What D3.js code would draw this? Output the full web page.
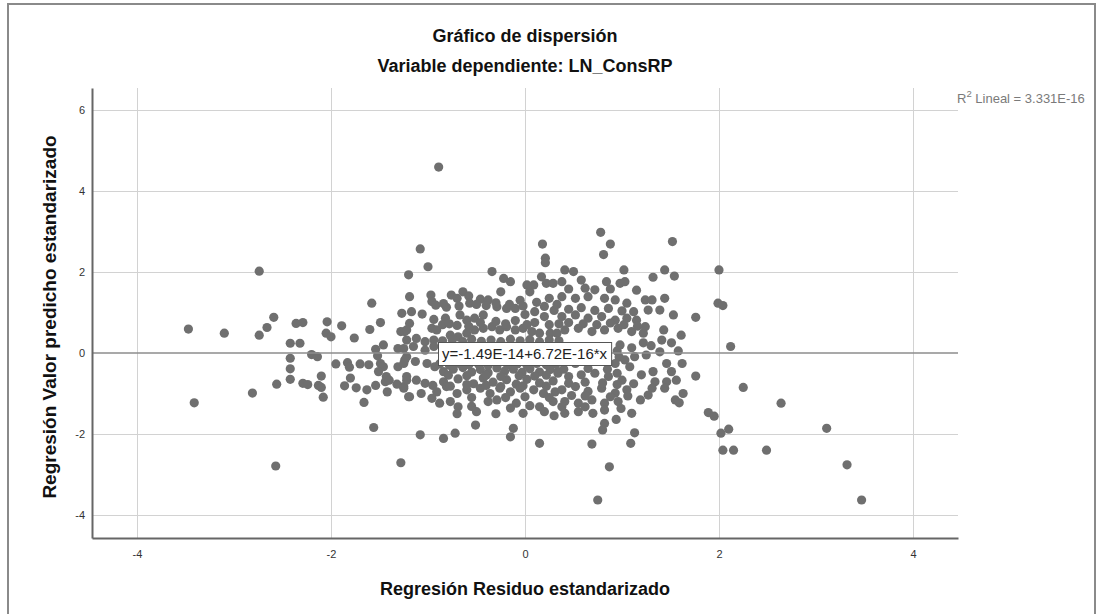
<!DOCTYPE html>
<html>
<head>
<meta charset="utf-8">
<script src="https://cdn.jsdelivr.net/npm/d3@7"></script>
<style>
  body { margin: 0; background: #fff; }
  svg { display: block; font-family: "Liberation Sans", Arial, sans-serif; }
</style>
</head>
<body>
<svg id="chart" width="1099" height="614"></svg>
<script>
// texts
const titulo = "Gráfico de dispersión";
const subtitulo = "Variable dependiente: LN_ConsRP";
const tituloX = "Regresión Residuo estandarizado";
const tituloY = "Regresión Valor predicho estandarizado";
const etiquetaR2 = "Lineal = 3.331E-16";
const etiquetaRecta = "y=-1.49E-14+6.72E-16*x";

// ticks
const ticksX = [-4, -2, 0, 2, 4];
const ticksY = [-4, -2, 0, 2, 4, 6];

// fit line: intercept and slope
const intercepto = -1.49e-14;
const pendiente = 6.72e-16;

// [residuo estandarizado, valor predicho estandarizado]
const puntos = [
  [-3.47,0.59],[-3.10,0.49],[-3.41,-1.23],[-2.57,-2.79],[-2.74,2.02],[-2.59,0.88],[-2.66,0.63],[-2.74,0.44],
  [-2.36,0.73],[-2.29,0.75],[-2.04,0.77],[-1.89,0.67],[-2.05,0.49],[-2.00,0.40],[-1.76,0.37],[-1.60,0.58],
  [-1.49,0.75],[-1.58,1.23],[-2.42,0.24],[-2.32,0.24],[-2.20,-0.04],[-2.14,-0.09],[-2.42,-0.13],[-2.42,-0.39],
  [-2.42,-0.65],[-2.56,-0.77],[-2.81,-0.99],[-2.29,-0.75],[-2.24,-0.78],[-2.10,-0.57],[-2.13,-0.80],[-2.10,-0.85],
  [-2.08,-1.09],[-1.95,-0.27],[-1.83,-0.24],[-1.81,-0.35],[-1.70,-0.27],[-1.61,-0.29],[-1.80,-0.62],[-1.86,-0.81],
  [-1.74,-0.86],[-1.63,-0.91],[-1.66,-1.22],[-1.56,-1.84],[-1.28,-2.71],[-1.54,-0.80],[-1.42,-0.96],[-1.46,0.20],
  [-1.54,0.09],[-1.52,-0.07],[-1.49,-0.26],[-1.46,-0.34],[-1.51,-0.46],[-1.43,-0.58],[-1.44,-0.71],[-1.40,-0.67],
  [-1.31,0.11],[-1.27,0.98],[-1.28,0.53],[-1.24,0.53],[-1.31,-0.34],[-1.25,-0.26],[-1.32,-0.77],[-1.25,-0.83],
  [-1.22,-0.67],[-1.20,1.93],[-1.19,1.39],[-1.22,-0.09],[-1.20,-1.08],
  [-1.08,2.57],[-1.00,2.13],[-0.34,2.01],[0.18,2.69],[0.21,2.34],[0.21,2.23],[-0.22,1.84],[-0.15,1.76],
  [-0.25,1.51],[0.02,1.68],[0.09,1.68],[0.05,1.51],[0.17,1.88],[0.22,1.72],[0.29,1.72],[-0.97,1.43],
  [-0.96,1.27],[-0.76,1.43],[-0.70,1.35],[-0.64,1.51],[-0.58,1.41],[-0.57,1.23],[-0.46,1.33],[-0.38,1.31],
  [-0.29,1.14],[-0.19,1.10],[-0.10,1.10],[-0.81,1.13],[-1.17,1.02],[-1.06,0.96],[-0.94,0.83],[-0.82,0.86],
  [-0.67,0.94],[-0.60,0.81],[-0.52,0.86],[-0.43,0.94],[-1.19,0.73],[-1.22,0.57],[-0.96,0.61],[-0.91,0.57],
  [-0.77,0.44],[-0.69,0.40],[-0.60,0.49],[-0.52,0.57],[-0.43,0.61],[-0.34,0.65],[-0.26,0.57],[-0.19,0.65],
  [-0.10,0.57],[-0.02,0.61],[0.07,0.53],[0.15,0.49],[0.26,0.49],[0.33,0.49],
  [-1.22,0.32],[-1.12,0.36],[-1.03,0.28],[-0.94,0.32],[-1.25,0.11],[-1.15,0.16],[-1.03,0.07],[-0.94,0.16],
  [-1.24,-0.17],[-1.13,-0.21],[-1.01,-0.26],[-0.93,-0.34],
  [-0.84,-0.46],[-0.74,-0.40],[-0.64,-0.36],[-0.55,-0.47],[-0.46,-0.41],[-0.38,-0.49],[-0.29,-0.37],[-0.21,-0.45],
  [-0.12,-0.40],[-0.03,-0.48],[0.05,-0.39],[0.15,-0.47],[0.26,-0.41],[0.34,-0.46],
  [-1.22,-0.58],[-1.12,-0.67],[-1.03,-0.75],[-0.84,-0.71],[-0.69,-0.64],[-0.53,-0.76],[-0.43,-0.62],[-0.33,-0.72],
  [-0.19,-0.66],[-0.09,-0.77],[0.02,-0.65],[0.15,-0.74],[0.29,-0.69],
  [-1.25,-0.87],[-1.19,-1.08],[-1.07,-1.00],[-0.91,-0.96],[-0.81,-0.83],[-0.70,-1.00],[-0.60,-0.91],[-0.46,-0.87],
  [-0.36,-1.00],[-0.26,-0.87],[-0.15,-0.96],[-0.05,-0.87],[0.09,-0.91],[0.19,-1.00],[0.31,-0.96],
  [-0.88,-1.24],[-0.77,-1.20],[-0.69,-1.33],[-0.38,-1.20],[-0.29,-1.16],[-0.09,-1.24],[0.15,-1.33],[0.29,-1.20],
  [-0.02,-1.49],[-0.51,-1.78],[-0.72,-1.98],[-0.84,-2.11],[-1.08,-2.02],[-0.12,-1.86],[-0.15,-2.07],[0.15,-2.23],
  [0.69,-2.25],[1.09,-2.23],[0.87,-2.81],[0.75,-3.63],[3.47,-3.63],[3.32,-2.76],[2.04,-2.40],[2.15,-2.40],[2.49,-2.40],
  [0.78,2.98],[0.88,2.69],[0.81,2.43],[1.52,2.75],[1.02,2.05],[0.41,2.05],[0.50,2.01],[1.32,1.87],
  [1.44,2.05],[1.54,1.90],[2.00,2.05],[1.99,1.23],[2.04,1.17],
  [0.38,1.76],[0.58,1.80],[0.72,1.56],[0.84,1.76],[0.98,1.72],[1.03,1.76],
  [1.24,1.31],[1.31,1.31],[1.44,1.35],[1.27,1.06],[1.39,1.06],[1.53,0.94],[1.76,0.88],
  [0.38,1.39],[0.52,1.35],[0.65,1.39],[0.82,1.35],[0.93,1.31],[1.05,1.23],
  [0.38,0.90],[0.52,0.94],[0.65,0.86],[0.79,0.90],[0.93,0.81],[1.05,0.86],[1.15,0.81],[1.24,0.65],
  [0.41,0.57],[0.55,0.61],[0.69,0.53],[0.82,0.57],[0.96,0.61],[1.10,0.53],[1.22,0.49],
  [1.43,0.57],[1.61,0.44],[1.41,0.32],[1.51,0.25],[1.10,0.13],[1.13,-0.09],[1.39,0.03],[1.58,0.05],
  [1.62,-0.26],[1.46,-0.26],[1.51,-0.46],[1.03,-0.17],[1.08,-0.34],[0.95,-0.50],[1.20,-0.54],[1.32,-0.46],
  [1.34,-0.71],[1.46,-0.71],[1.44,-0.87],[1.56,-0.67],[1.76,-0.57],[1.19,-1.16],[1.27,-1.04],[1.31,-0.87],
  [1.55,-1.16],[1.63,-1.00],[1.59,-1.23],[1.89,-1.47],[1.95,-1.56],[2.02,-1.98],[2.10,-1.88],
  [1.10,-1.49],[0.94,-1.64],[0.82,-1.74],[0.80,-1.90],[1.13,-1.97],
  [0.34,-0.50],[0.45,-0.58],[0.58,-0.54],[0.72,-0.50],[0.86,-0.58],[1.00,-0.67],
  [0.38,-0.91],[0.52,-0.83],[0.65,-0.95],[0.79,-0.87],[0.93,-0.99],[1.05,-0.91],
  [0.41,-1.20],[0.55,-1.24],[0.69,-1.16],[0.82,-1.24],[0.96,-1.20],
  [0.41,-1.49],[0.55,-1.45],[0.70,-1.49],[0.82,-1.41],[0.99,-1.37],
  [0.38,-0.17],[0.52,-0.26],[0.65,-0.21],[0.79,-0.17],[0.93,-0.26],[0.98,0.20],
  [2.12,0.16],[2.25,-0.85],[2.64,-1.24],[3.11,-1.86],[-0.89,4.59],
  [-0.85,0.30],[-0.75,0.33],[-0.64,0.28],[-0.55,0.34],[-0.45,0.29],[-0.35,0.32],[-0.25,0.28],[-0.15,0.34],
  [-0.05,0.30],[0.05,0.33],[0.15,0.28],[0.25,0.32],[0.35,0.30],
  [-0.88,-0.27],[-0.78,-0.30],[-0.68,-0.26],[-0.58,-0.29],[-0.48,-0.27],[-0.38,-0.30],[-0.28,-0.26],[-0.18,-0.29],
  [-0.08,-0.27],[0.02,-0.30],[0.12,-0.26],[0.22,-0.29],[0.32,-0.27],
  [0.00,0.95],[0.10,1.02],[0.20,0.90],[0.30,1.05],[-0.05,1.30],[0.12,1.25],[0.25,1.35],[0.33,1.20],
  [-0.85,0.70],[-0.70,0.68],[-0.30,0.78],[-0.10,0.80],[0.10,0.75],[0.25,0.70],[0.35,0.72],
  [-0.60,0.05],[-0.20,-0.05],[0.20,0.00],[0.60,0.05],[0.85,-0.05],[0.95,0.05],[0.97,-0.10],
  [-0.50,-1.45],[-0.30,-1.50],[0.20,-1.45],[0.30,-1.55],[-0.70,-1.50],
  [0.45,1.58],[0.62,1.60],[0.88,1.58],[1.15,1.55],
  [-0.92,1.18],[-0.84,1.22],[-0.68,1.16],[-0.50,1.20],[-0.40,1.17],[-0.30,1.24],[-0.16,1.20],[-0.02,1.16],[0.20,1.15],
  [-0.78,0.72],[-0.58,0.66],[-0.46,0.75],[-0.20,0.72],[0.02,0.70],[0.45,0.75],[0.60,0.72],[0.74,0.70],
  [0.88,0.74],[1.02,0.70],[1.16,0.66],
  [0.45,1.08],[0.58,1.12],[0.72,1.05],[0.86,1.10],[1.00,1.04],[1.12,1.02],
  [-0.79,-0.55],[-0.60,-0.56],[-0.40,-0.55],[-0.25,-0.58],[-0.06,-0.56],[0.10,-0.57],[0.22,-0.55],
  [0.40,-0.40],[0.65,-0.38],[0.85,-0.40],
  [-0.95,-0.80],[-0.77,-0.82],[-0.60,-0.78],[-0.40,-0.80],[-0.25,-0.83],[-0.02,-0.81],[0.22,-0.82],
  [0.45,-0.75],[0.62,-0.72],[0.80,-0.74],[0.95,-0.78],[1.12,-0.76],
  [-0.96,-1.12],[-0.55,-1.10],[-0.20,-1.10],[0.00,-1.08],[0.25,-1.10],[0.48,-1.05],[0.62,-1.06],
  [0.88,-1.08],[1.06,-1.06],
  [-0.55,-1.32],[-0.15,-1.36],[0.05,-1.30],[0.38,-1.33],[0.62,-1.33],
  [1.22,0.25],[1.25,-0.05],[1.30,0.18]
];

const W = 1099, H = 614;
const plot = { left: 92, right: 958, top: 88, bottom: 538 };

const svg = d3.select("#chart");

svg.append("rect").attr("width", W).attr("height", H).attr("fill", "#fff");

// outer frame
svg.append("rect")
  .attr("x", 8).attr("y", 4)
  .attr("width", 1087).attr("height", 640)
  .attr("fill", "none")
  .attr("stroke", "#8a8a8a")
  .attr("stroke-width", 2);

const x = d3.scaleLinear().domain([-4.464, 4.464]).range([plot.left, plot.right]);
const y = d3.scaleLinear().domain([-4.568, 6.543]).range([plot.bottom, plot.top]);

// grid
svg.append("g")
  .attr("transform", `translate(0,${plot.bottom})`)
  .call(d3.axisBottom(x).tickValues(ticksX).tickSize(-(plot.bottom - plot.top)).tickFormat(""))
  .call(g => g.select(".domain").remove())
  .selectAll("line").attr("stroke", "#d2d2d2");

svg.append("g")
  .attr("transform", `translate(${plot.left},0)`)
  .call(d3.axisLeft(y).tickValues(ticksY.filter(d => d !== 0)).tickSize(-(plot.right - plot.left)).tickFormat(""))
  .call(g => g.select(".domain").remove())
  .selectAll("line").attr("stroke", "#d2d2d2");

// points
svg.append("g")
  .selectAll("circle")
  .data(puntos)
  .join("circle")
  .attr("cx", d => x(d[0]))
  .attr("cy", d => y(d[1]))
  .attr("r", 4.6)
  .attr("fill", "#6f6f6f");

// fit line
const xr = x.domain();
svg.append("line")
  .attr("x1", x(xr[0])).attr("x2", x(xr[1]))
  .attr("y1", y(intercepto + pendiente * xr[0]))
  .attr("y2", y(intercepto + pendiente * xr[1]))
  .attr("stroke", "#8c8c8c")
  .attr("stroke-width", 1.5);

// axes
const axX = svg.append("g")
  .attr("transform", `translate(0,${plot.bottom})`)
  .call(d3.axisBottom(x).tickValues(ticksX).tickSize(0).tickPadding(12).tickFormat(d => String(d)));
const axY = svg.append("g")
  .attr("transform", `translate(${plot.left},0)`)
  .call(d3.axisLeft(y).tickValues(ticksY).tickSize(0).tickPadding(7).tickFormat(d => String(d)));

[axX, axY].forEach(g => {
  g.select(".domain").attr("stroke", "#666").attr("stroke-width", 2);
  g.selectAll("text")
    .attr("fill", "#333")
    .style("font-size", "11px")
    .style("font-family", "'Liberation Sans', Arial, sans-serif");
});

// fit line label box
const lx = 438, ly = 342;
const lbl = svg.append("g");
const lt = lbl.append("text")
  .attr("x", lx + 4).attr("y", ly + 17)
  .attr("fill", "#222")
  .style("font-size", "15px")
  .text(etiquetaRecta);
const bw = lt.node().getComputedTextLength();
lbl.insert("rect", "text")
  .attr("x", lx + 0.5).attr("y", ly + 0.5)
  .attr("width", bw + 8).attr("height", 23)
  .attr("fill", "#fff")
  .attr("stroke", "#555")
  .attr("stroke-width", 1);

// R2 label
const r2 = svg.append("text")
  .attr("x", 957).attr("y", 103)
  .attr("fill", "#7a7a7a")
  .style("font-size", "13px");
r2.append("tspan").text("R");
r2.append("tspan").attr("dy", -6).style("font-size", "9.5px").text("2");
r2.append("tspan").attr("dy", 6).text(" " + etiquetaR2);

// titles
svg.append("text")
  .attr("x", 525).attr("y", 42)
  .attr("text-anchor", "middle")
  .style("font-size", "18px").style("font-weight", "bold")
  .attr("fill", "#111")
  .text(titulo);
svg.append("text")
  .attr("x", 525).attr("y", 72)
  .attr("text-anchor", "middle")
  .style("font-size", "18px").style("font-weight", "bold")
  .attr("fill", "#111")
  .text(subtitulo);

svg.append("text")
  .attr("x", 525).attr("y", 595)
  .attr("text-anchor", "middle")
  .style("font-size", "18px").style("font-weight", "bold")
  .attr("fill", "#111")
  .text(tituloX);
svg.append("text")
  .attr("transform", "translate(56,317) rotate(-90)")
  .attr("text-anchor", "middle")
  .style("font-size", "19px").style("font-weight", "bold")
  .attr("fill", "#111")
  .text(tituloY);
</script>
</body>
</html>
